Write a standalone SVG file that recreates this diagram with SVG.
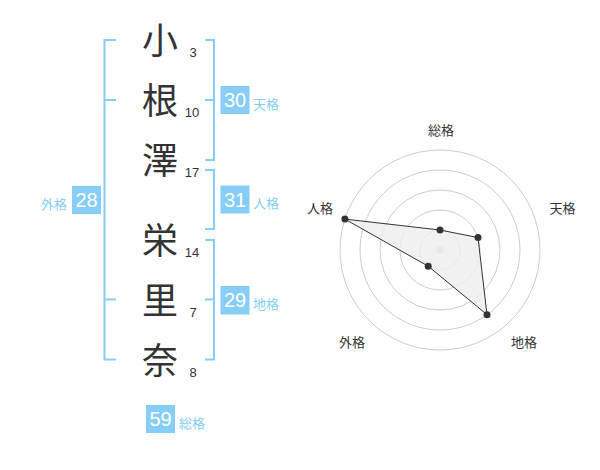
<svg xmlns="http://www.w3.org/2000/svg" width="600" height="470" viewBox="0 0 600 470">
<style>
.kj{font-family:"Noto Sans CJK JP","Noto Sans CJK SC",sans-serif;font-size:36px;fill:#333;text-anchor:middle}
.num{font-family:"Liberation Sans",Arial,sans-serif;font-size:13px;fill:#333;text-anchor:middle}
.br{fill:none;stroke:#86cdf7;stroke-width:2}
.box{fill:#86cdf7}
.bt{font-family:"Liberation Sans",Arial,sans-serif;font-size:20px;fill:#fff;text-anchor:middle}
.lb{font-family:"Noto Sans CJK JP","Noto Sans CJK SC",sans-serif;font-size:13px;fill:#86cdf7}
.rl{font-family:"Noto Sans CJK JP","Noto Sans CJK SC",sans-serif;font-size:13px;fill:#333;text-anchor:middle}
.ring{fill:none;stroke:#ccc;stroke-width:1}
.pt{fill:#333}
</style>
<rect width="600" height="470" fill="#fff"/>
<g id="name">
<text class="kj" x="160" y="54">小</text>
<text class="kj" x="160" y="114">根</text>
<text class="kj" x="160" y="174">澤</text>
<text class="kj" x="160" y="254">栄</text>
<text class="kj" x="160" y="314">里</text>
<text class="kj" x="160" y="374">奈</text>
<text class="num" x="193" y="57">3</text>
<text class="num" x="192" y="117">10</text>
<text class="num" x="192" y="177">17</text>
<text class="num" x="192" y="257">14</text>
<text class="num" x="193" y="317">7</text>
<text class="num" x="193" y="377">8</text>
</g>
<g id="connectors">
<path class="br" d="M116 40H104.5V359.5H116M104.5 100H116M104.5 299.5H116"/>
<path class="br" d="M205 40H214V160H205M205 100H214"/>
<path class="br" d="M205 170H214V229H205"/>
<path class="br" d="M205 240H214V359.5H205M205 299.5H214"/>
</g>
<g id="tenkaku">
<rect class="box" x="220.5" y="86" width="29" height="28"/>
<text class="bt" x="235" y="107">30</text>
<text class="lb" x="253" y="108.5">天格</text>
</g>
<g id="jinkaku">
<rect class="box" x="220.5" y="185.5" width="29" height="28"/>
<text class="bt" x="235" y="206.5">31</text>
<text class="lb" x="253" y="208">人格</text>
</g>
<g id="chikaku">
<rect class="box" x="220.5" y="286" width="29" height="28.5"/>
<text class="bt" x="235" y="307">29</text>
<text class="lb" x="253" y="308.5">地格</text>
</g>
<g id="gaikaku">
<rect class="box" x="72" y="186" width="29" height="28"/>
<text class="bt" x="86.5" y="207">28</text>
<text class="lb" x="41" y="208.5">外格</text>
</g>
<g id="soukaku">
<rect class="box" x="146" y="405" width="29" height="28"/>
<text class="bt" x="160.5" y="426">59</text>
<text class="lb" x="179" y="427.5">総格</text>
</g>
<g id="radar">
<circle class="ring" cx="440" cy="250" r="20"/>
<circle class="ring" cx="440" cy="250" r="40"/>
<circle class="ring" cx="440" cy="250" r="60"/>
<circle class="ring" cx="440" cy="250" r="80"/>
<circle class="ring" cx="440" cy="250" r="100"/>
<circle cx="440" cy="250" r="3.5" fill="#ccc"/>
<polygon points="440,230 478,237.6 487,314.7 428.2,266.2 344.9,219.1" fill="#eee" fill-opacity="0.8" stroke="#333" stroke-width="1"/>
<circle class="pt" cx="440" cy="230" r="3.5"/>
<circle class="pt" cx="478" cy="237.6" r="3.5"/>
<circle class="pt" cx="487" cy="314.7" r="3.5"/>
<circle class="pt" cx="428.2" cy="266.2" r="3.5"/>
<circle class="pt" cx="344.9" cy="219.1" r="3.5"/>
<text class="rl" x="441" y="134.5">総格</text>
<text class="rl" x="562.5" y="212.5">天格</text>
<text class="rl" x="524" y="346.5">地格</text>
<text class="rl" x="352" y="346.5">外格</text>
<text class="rl" x="320" y="212.5">人格</text>
</g>
</svg>
